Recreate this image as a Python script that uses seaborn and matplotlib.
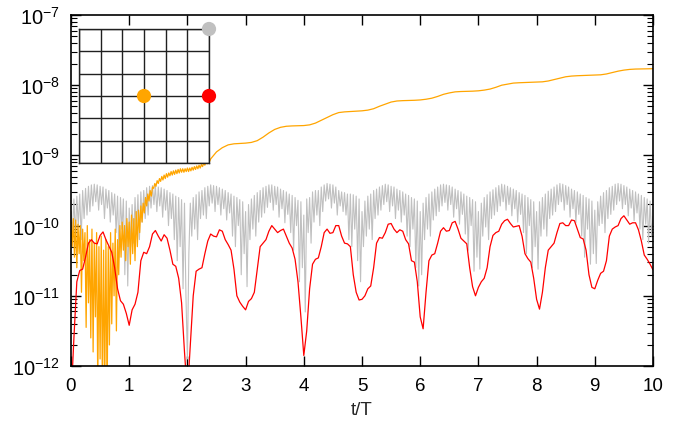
import numpy as np
import pandas as pd
import seaborn as sns
import matplotlib
matplotlib.use("Agg")
import matplotlib.pyplot as plt
from matplotlib.ticker import LogLocator, LogFormatterMathtext, MultipleLocator, NullFormatter

# log10 of the signals
# gray: one value every 0.025 T
gray_log = [
    # 0 - 1
    -9.8, -10.1, -9.62, -10.15, -9.58, -10.0, -9.55, -10.2, -9.5, -9.9,
    -9.47, -9.85, -9.44, -9.8, -9.42, -9.72, -9.41, -9.66, -9.42, -9.78,
    -9.44, -9.7, -9.45, -9.9, -9.48, -9.75, -9.5, -9.95, -9.53, -9.85,
    -9.55, -10.1, -9.58, -10.45, -9.6, -10.05, -9.62, -10.7, -9.65, -10.86,
    # 1 - 2
    -9.75, -10.3, -9.7, -10.25, -9.6, -10.1, -9.56, -10.2, -9.52, -9.95,
    -9.5, -9.9, -9.46, -9.85, -9.44, -9.75, -9.43, -9.7, -9.43, -9.8,
    -9.45, -9.72, -9.46, -9.88, -9.48, -9.78, -9.5, -10.0, -9.53, -9.9,
    -9.55, -10.2, -9.58, -10.5, -9.6, -10.3, -9.63, -10.9, -9.68, -11.0,
    # 2 - 3
    -11.9, -10.4, -9.68, -10.15, -9.6, -10.05, -9.56, -10.2, -9.52, -9.9,
    -9.5, -9.85, -9.46, -9.9, -9.44, -9.72, -9.42, -9.68, -9.43, -9.8,
    -9.44, -9.7, -9.46, -9.85, -9.48, -9.76, -9.5, -9.92, -9.53, -9.82,
    -9.55, -10.15, -9.58, -10.3, -9.6, -10.0, -9.63, -10.7, -9.66, -10.4,
    # 3 - 4
    -9.8, -10.87, -9.7, -10.2, -9.62, -10.05, -9.57, -10.15, -9.53, -9.95,
    -9.5, -9.88, -9.46, -9.82, -9.44, -9.74, -9.42, -9.67, -9.42, -9.78,
    -9.44, -9.7, -9.45, -9.88, -9.48, -9.76, -9.5, -9.96, -9.52, -9.84,
    -9.55, -10.1, -9.57, -10.35, -9.6, -10.0, -9.64, -10.8, -9.66, -10.6,
    # 4 - 5
    -9.85, -11.23, -9.62, -10.1, -9.6, -10.25, -9.52, -9.95, -9.5, -9.85,
    -9.5, -10.0, -9.45, -9.8, -9.42, -9.65, -9.4, -9.62, -9.41, -9.75,
    -9.42, -9.68, -9.45, -9.85, -9.5, -9.72, -9.52, -9.8, -9.53, -9.85,
    -9.55, -10.2, -9.55, -10.3, -9.56, -10.05, -9.58, -10.5, -9.62, -10.8,
    # 5 - 6
    -9.8, -10.3, -9.65, -10.15, -9.58, -10.05, -9.55, -10.2, -9.5, -9.9,
    -9.48, -9.85, -9.45, -9.78, -9.43, -9.7, -9.41, -9.66, -9.42, -9.8,
    -9.44, -9.72, -9.45, -9.9, -9.48, -9.78, -9.5, -9.95, -9.52, -9.85,
    -9.55, -10.15, -9.57, -10.3, -9.6, -10.05, -9.62, -10.6, -9.65, -10.86,
    # 6 - 7
    -9.8, -10.7, -9.68, -10.2, -9.6, -10.05, -9.55, -10.15, -9.52, -9.92,
    -9.48, -9.86, -9.45, -9.8, -9.42, -9.72, -9.41, -9.67, -9.42, -9.78,
    -9.43, -9.7, -9.45, -9.88, -9.48, -9.76, -9.5, -9.98, -9.52, -9.84,
    -9.55, -10.12, -9.58, -10.35, -9.6, -10.0, -9.63, -10.65, -9.66, -10.45,
    # 7 - 8
    -9.8, -10.62, -9.68, -10.15, -9.6, -10.02, -9.56, -10.2, -9.52, -9.9,
    -9.49, -9.85, -9.46, -9.8, -9.43, -9.72, -9.41, -9.66, -9.42, -9.78,
    -9.44, -9.7, -9.46, -9.86, -9.48, -9.76, -9.5, -9.95, -9.53, -9.84,
    -9.55, -10.1, -9.57, -10.4, -9.6, -10.0, -9.63, -10.6, -9.66, -10.3,
    # 8 - 9
    -9.8, -10.62, -9.66, -10.15, -9.6, -10.05, -9.55, -10.15, -9.51, -9.9,
    -9.48, -9.85, -9.45, -9.8, -9.42, -9.7, -9.4, -9.66, -9.41, -9.78,
    -9.43, -9.7, -9.45, -9.88, -9.48, -9.76, -9.5, -9.96, -9.52, -9.84,
    -9.55, -10.15, -9.57, -10.45, -9.6, -10.05, -9.62, -10.55, -9.65, -10.4,
    # 9 - 10
    -9.78, -10.54, -9.66, -10.0, -9.58, -9.97, -9.53, -10.1, -9.5, -9.9,
    -9.46, -9.84, -9.44, -9.78, -9.41, -9.7, -9.4, -9.65, -9.41, -9.76,
    -9.43, -9.7, -9.45, -9.86, -9.48, -9.75, -9.5, -9.93, -9.52, -9.82,
    -9.55, -10.05, -9.57, -10.2, -9.6, -9.98, -9.62, -10.25, -9.65, -10.15,
    -9.87,
]

# red: one value every 0.05 T
red_log = [
    -12.5, -11.6, -10.8, -10.64, -10.62, -10.45, -10.25, -10.2, -10.25, -10.26,
    -10.14, -10.09, -10.2, -10.29, -10.38, -10.6, -10.9, -11.07, -11.12, -11.25,
    -11.42, -11.2, -11.12, -10.95, -10.5, -10.38, -10.4, -10.3, -10.12, -10.07,
    -10.15, -10.22, -10.13, -10.18, -10.35, -10.55, -10.58, -10.75, -11.1, -11.8,
    -12.4, -11.7, -11.0, -10.65, -10.62, -10.6, -10.4, -10.22, -10.12, -10.15,
    -10.16, -10.06, -10.08, -10.2, -10.27, -10.35, -10.62, -11.0, -11.09, -11.15,
    -11.2, -11.08, -11.04, -10.95, -10.62, -10.3, -10.25, -10.2, -10.08, -10.0,
    -10.05, -10.1, -10.07, -10.05, -10.15, -10.25, -10.32, -10.48, -10.8, -11.3,
    -11.85, -11.5, -10.9, -10.55, -10.48, -10.46, -10.3, -10.1, -10.05, -10.11,
    -10.1, -10.0, -10.0, -10.15, -10.25, -10.26, -10.3, -10.7, -10.95, -11.06,
    -11.05, -11.0, -10.9, -10.86, -10.6, -10.25, -10.17, -10.18, -10.1, -9.98,
    -9.97, -10.05, -10.1, -10.06, -10.08, -10.2, -10.26, -10.5, -10.52, -10.8,
    -11.3, -11.47, -10.95, -10.5, -10.42, -10.4, -10.25, -10.08, -10.03, -10.08,
    -10.07, -9.96, -9.94, -10.05, -10.18, -10.22, -10.26, -10.6, -10.87, -11.0,
    -10.88, -10.8, -10.75, -10.6, -10.3, -10.14, -10.1, -10.08, -9.98, -9.93,
    -9.91, -9.97, -10.02, -10.01, -10.0, -10.15, -10.4, -10.47, -10.52, -10.75,
    -11.05, -11.19, -10.95, -10.6, -10.35, -10.3, -10.25, -10.1, -9.97, -9.96,
    -10.0, -10.0, -9.92, -9.93, -10.05, -10.17, -10.19, -10.35, -10.7, -10.88,
    -10.9, -10.78, -10.68, -10.65, -10.5, -10.15, -10.05, -10.02, -10.0, -9.9,
    -9.86, -9.92, -9.98, -9.96, -9.96, -10.06, -10.22, -10.42, -10.48, -10.55,
    -10.63,
]

# orange, noisy start: one value every 0.02 T from t = 0 to 2.4
orange_early_log = [
    -9.95, -10.3, -9.9, -10.45, -9.92, -10.6, -9.98, -10.4, -10.0, -10.95,
    -10.05, -10.5, -10.1, -11.45, -10.0, -11.1, -10.2, -11.6, -10.05, -11.8,
    -10.25, -11.3, -10.1, -12.3, -10.3, -11.9, -10.15, -12.4, -10.35, -12.3,
    -10.2, -12.5, -10.3, -11.7, -10.1, -11.4, -10.25, -11.0, -10.05, -11.5,
    -10.2, -10.7, -10.0, -10.45, -9.95, -10.35, -10.0, -10.5, -9.9, -10.3,
    -9.95, -10.55, -9.85, -10.4, -9.9, -10.5, -9.8, -10.3, -9.78, -10.1,
    -9.72, -9.95, -9.68, -9.82, -9.6, -9.72, -9.55, -9.65, -9.5, -9.58,
    -9.45, -9.47, -9.4, -9.44, -9.36, -9.4, -9.33, -9.37, -9.3, -9.35,
    -9.28, -9.33, -9.26, -9.31, -9.25, -9.29, -9.23, -9.28, -9.22, -9.27,
    -9.21, -9.26, -9.2, -9.25, -9.19, -9.24, -9.19, -9.24, -9.19, -9.23,
    -9.18, -9.23, -9.18, -9.22, -9.17, -9.21, -9.16, -9.2, -9.15, -9.19,
    -9.14, -9.18, -9.13, -9.16, -9.11, -9.14, -9.09, -9.12, -9.06, -9.09,
    -9.05,
]

# orange, smooth growth: one value every 0.1 T from t = 2.5 to 10
orange_late_log = [
    -8.95, -8.89, -8.85, -8.835, -8.83, -8.825, -8.815, -8.79, -8.74, -8.68,
    -8.63, -8.6, -8.585, -8.58, -8.578, -8.575, -8.565, -8.54, -8.5, -8.46,
    -8.42, -8.39, -8.38, -8.375, -8.37, -8.365, -8.355, -8.335, -8.3, -8.27,
    -8.24, -8.225, -8.22, -8.218, -8.215, -8.21, -8.2, -8.185, -8.16, -8.13,
    -8.11, -8.095, -8.09, -8.088, -8.085, -8.08, -8.07, -8.055, -8.03, -8.0,
    -7.985, -7.97, -7.965, -7.962, -7.96, -7.957, -7.952, -7.94, -7.92, -7.9,
    -7.88, -7.87, -7.865, -7.862, -7.86, -7.857, -7.852, -7.84, -7.82, -7.8,
    -7.785, -7.775, -7.77, -7.768, -7.766, -7.765,
]

# inset lattice sites (grid coordinates) and their colours
site_name = ["gray", "red", "orange"]
site_x = [6, 6, 3]
site_y = [6, 3, 3]

colors = {"gray": "#c0c0c0", "red": "#ff0000", "orange": "#ffa500"}

t_gray = 0.025 * np.arange(len(gray_log))
t_red = 0.05 * np.arange(len(red_log))
t_orange = np.concatenate([0.02 * np.arange(len(orange_early_log)),
                           2.5 + 0.1 * np.arange(len(orange_late_log))])

df = pd.concat([
    pd.DataFrame({"t": t_gray, "value": 10.0 ** np.array(gray_log), "site": "gray"}),
    pd.DataFrame({"t": t_orange,
                  "value": 10.0 ** np.array(orange_early_log + orange_late_log),
                  "site": "orange"}),
    pd.DataFrame({"t": t_red, "value": 10.0 ** np.array(red_log), "site": "red"}),
], ignore_index=True)

sns.set_style("ticks")
plt.rcParams["font.family"] = ["Liberation Sans", "DejaVu Sans"]
plt.rcParams["axes.unicode_minus"] = False
plt.rcParams["mathtext.default"] = "regular"

fig = plt.figure(figsize=(6.85, 4.31), dpi=100)
ax = fig.add_axes([71 / 685, 1 - 367 / 431, 582 / 685, 351 / 431])

for name, lw in [("gray", 0.8), ("orange", 0.9), ("red", 0.9)]:
    sns.lineplot(data=df[df["site"] == name], x="t", y="value", color=colors[name],
                 lw=lw, estimator=None, sort=False, legend=False, ax=ax)

ax.set_yscale("log")
ax.set_xlim(0, 10)
ax.set_ylim(1e-12, 1e-7)
ax.xaxis.set_major_locator(MultipleLocator(1))
ax.yaxis.set_major_locator(LogLocator(base=10, numticks=10))
ax.yaxis.set_minor_locator(LogLocator(base=10, subs=np.arange(2, 10), numticks=20))
ax.yaxis.set_major_formatter(LogFormatterMathtext())
ax.yaxis.set_minor_formatter(NullFormatter())
ax.tick_params(which="both", direction="in", top=True, right=True,
               color="black", labelcolor="black")
ax.tick_params(axis="x", labelsize=13.5)
ax.tick_params(axis="y", labelsize=14.5)
ax.tick_params(which="major", length=7, width=1.0, pad=8)
ax.tick_params(which="minor", length=4, width=0.8)
for s in ax.spines.values():
    s.set_linewidth(1.2)
    s.set_color("black")
ax.set_xlabel("t/T", fontsize=13.5, labelpad=5)
ax.set_ylabel("")

# lattice inset
ax_in = fig.add_axes([79 / 685, 1 - 164 / 431, 130 / 685, 134 / 431])
ax_in.set_facecolor("white")
ax_in.set_xlim(0, 6)
ax_in.set_ylim(0, 6)
ax_in.set_xticks(range(7))
ax_in.set_yticks(range(7))
ax_in.grid(True, color="#202020", lw=1.0)
ax_in.tick_params(length=0, labelbottom=False, labelleft=False)
for s in ax_in.spines.values():
    s.set_linewidth(1.0)
    s.set_color("#202020")
sns.scatterplot(x=site_x, y=site_y, hue=site_name, palette=colors, s=105,
                edgecolor="none", legend=False, clip_on=False, zorder=5, ax=ax_in)
ax_in.set_xlabel("")
ax_in.set_ylabel("")

fig.savefig("out.png", dpi=100)
